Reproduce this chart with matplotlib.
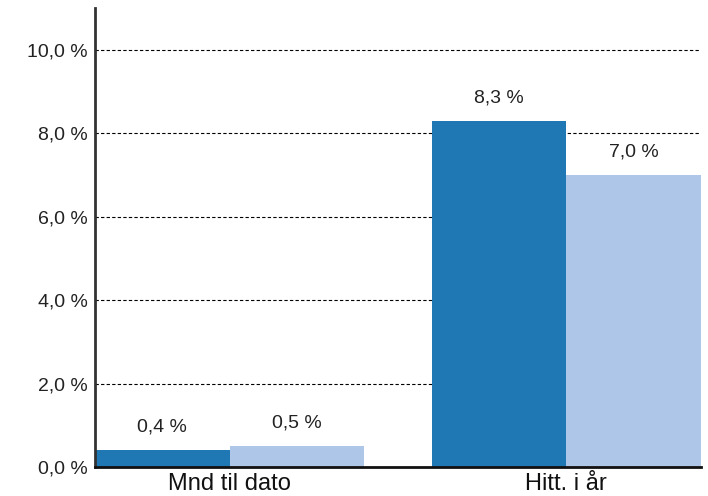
import matplotlib
matplotlib.use("Agg")
import matplotlib.pyplot as plt
import numpy as np
from matplotlib.ticker import FuncFormatter, MultipleLocator

categories = ["Mnd til dato", "Hitt. i år"]
series_a = [0.4, 8.3]
series_b = [0.5, 7.0]
colors = ["#1f77b4", "#aec7e8"]


def pct(v):
    return f"{v:.1f} %".replace(".", ",")


def main():
    plt.rcParams["font.family"] = ["Liberation Sans", "DejaVu Sans"]
    fig = plt.figure(figsize=(7.08, 4.96), dpi=100)
    ax = fig.add_axes([0.134, 0.0585, 0.856, 0.9255])

    x = np.arange(len(categories))
    w = 0.4
    bars_a = ax.bar(x - w / 2, series_a, w, color=colors[0], zorder=2)
    bars_b = ax.bar(x + w / 2, series_b, w, color=colors[1], zorder=2)

    for bars in (bars_a, bars_b):
        for b in bars:
            ax.annotate(pct(b.get_height()), (b.get_x() + b.get_width() / 2, b.get_height()),
                        xytext=(0, 16.5), textcoords="offset points", ha="center", va="center",
                        fontsize=14, color="#222222")

    ax.set_xlim(-w, len(categories) - 1 + w)
    ax.set_ylim(0, 11)
    ax.yaxis.set_major_locator(MultipleLocator(2))
    ax.yaxis.set_major_formatter(FuncFormatter(lambda v, p: pct(v)))
    ax.set_xticks(x)
    ax.set_xticklabels(categories, fontsize=17, color="#111111")
    ax.tick_params(axis="y", length=0, pad=5, labelsize=14, labelcolor="#222222")
    ax.tick_params(axis="x", length=0, pad=4)

    ax.yaxis.grid(True, linestyle=(0, (3, 2)), color="black", linewidth=0.8, zorder=1)
    ax.set_axisbelow(True)
    for s in ("top", "right"):
        ax.spines[s].set_visible(False)
    ax.spines["left"].set_linewidth(2)
    ax.spines["left"].set_color("#333333")
    ax.spines["bottom"].set_linewidth(2)
    ax.spines["bottom"].set_color("#111111")

    fig.savefig("out.png", dpi=100)


if __name__ == "__main__":
    main()
